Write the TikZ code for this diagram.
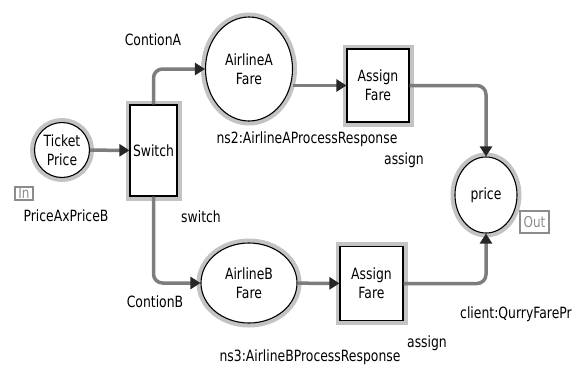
\documentclass[tikz,border=0pt]{standalone}
\usepackage{fontspec}
\setmainfont{DejaVu Sans}[FakeStretch=0.8]
\usetikzlibrary{arrows.meta,shapes.geometric}
\definecolor{halo}{RGB}{195,195,195}
\definecolor{arc}{RGB}{125,125,125}
\definecolor{tag}{RGB}{140,140,140}
\tikzset{
  place/.style={ellipse, draw, line width=1.1pt, fill=white, inner sep=0pt, align=center,
    preaction={draw=halo, line width=9pt}},
  trans/.style={rectangle, draw, line width=1.1pt, fill=white, inner sep=0pt, align=center,
    preaction={draw=halo, line width=9pt}},
  flow/.style={draw=arc, line width=3.5pt, rounded corners=9pt,
    -{Triangle[length=10pt, width=12pt, color=black!85]}},
  port/.style={draw=tag, text=tag, line width=1.8pt, inner sep=0.5pt,
    font=\fontsize{15}{15}\selectfont}
}

\begin{document}
\begin{tikzpicture}[x=1pt, y=-1pt, font=\fontsize{15.5}{19}\selectfont]
        \useasboundingbox (0, 0) rectangle (576, 373);
        \node[place, minimum width=55pt, minimum height=55pt] (tp) at (62, 150) {Ticket\\Price};
        \node[trans, minimum width=47pt, minimum height=91pt] (sw) at (153.5, 150.5) {Switch};
        \node[place, minimum width=87pt, minimum height=104pt] (airA) at (249, 69) {AirlineA\\Fare};
        \node[trans, minimum width=62pt, minimum height=73pt] (asA) at (378, 85.5) {Assign\\Fare};
        \node[place, minimum width=96pt, minimum height=80pt] (airB) at (249, 283) {AirlineB\\Fare};
        \node[trans, minimum width=63pt, minimum height=74pt] (asB) at (371.5, 283.5) {Assign\\Fare};
        \node[place, minimum width=62pt, minimum height=76pt] (pr) at (486, 195) {price};
        \node[port, minimum width=18pt, minimum height=13pt] (in) at (24, 193.5) {In};
        \node[port, minimum width=29pt, minimum height=22pt] (out) at (534.5, 222) {Out};
        \node (pab) at (66, 216) {PriceAxPriceB};
        \node (ca) at (153, 40) {ContionA};
        \node (cb) at (155, 302) {ContionB};
        \node (swl) at (201, 217) {switch};
        \node (nsA) at (307, 139) {ns2:AirlineAProcessResponse};
        \node (nsB) at (310, 357) {ns3:AirlineBProcessResponse};
        \node (agA) at (404, 160) {assign};
        \node (agB) at (427, 343) {assign};
        \node[anchor=west, inner sep=0pt] (cl) at (460, 314) {client:QurryFarePr};
        \draw[flow] (tp) -- (sw);
        \draw[flow] (sw.north) |- (airA);
        \draw[flow] (sw.south) |- (airB);
        \draw[flow] (airA.east |- asA) -- (asA);
        \draw[flow] (airB) -- (asB);
        \draw[flow] (asA) -| (pr);
        \draw[flow] (asB) -| (pr);
      \end{tikzpicture}
\end{document}
